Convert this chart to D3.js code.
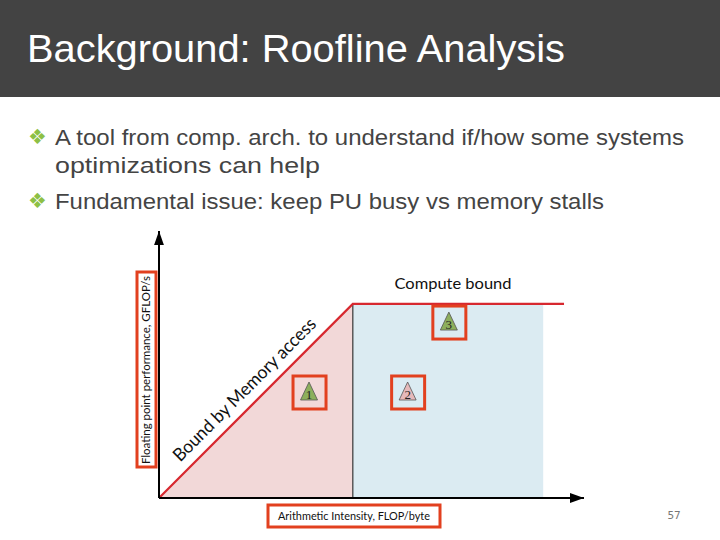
<!DOCTYPE html>
<html><head><meta charset="utf-8">
<script src="https://cdn.jsdelivr.net/npm/d3@7"></script>
<style>html,body{margin:0;padding:0;background:#fff;}svg{display:block;}</style>
</head><body>
<script>
// ---- data (arbitrary units) ----
const title = "Background: Roofline Analysis";
const bullets = [
  ["A tool from comp. arch. to understand if/how some systems", "optimizations can help"],
  ["Fundamental issue: keep PU busy vs memory stalls"]
];
const roofX = [0, 45.6, 95.3];      // arithmetic intensity
const roofY = [0, 72.7, 72.7];      // performance
const computeRegionEnd = 90.4;
const pointLabels = ["1", "2", "3"];
const pointX = [35.3, 58.5, 68.2];
const pointY = [39.7, 39.7, 65.9];
const pointKinds = ["green", "pink", "green"];
const xLabel = "Arithmetic Intensity, FLOP/byte";
const yLabel = "Floating point performance, GFLOP/s";
const memoryLabel = "Bound by Memory access";
const computeLabel = "Compute bound";
const pageNumber = "57";

const W = 720, H = 540;
const svg = d3.select("body").append("svg").attr("width", W).attr("height", H);

// title bar
svg.append("rect").attr("x",0).attr("y",0).attr("width",W).attr("height",97).attr("fill","#434343");
svg.append("text").attr("x",27).attr("y",62).text(title)
  .attr("font-family","Liberation Sans, Arial, sans-serif").attr("font-size",39)
  .attr("fill","#fff").attr("textLength",538).attr("lengthAdjust","spacingAndGlyphs");

// bullets
const bulletTop = [145, 209];
const lineW = [[629, 265], [549]];
bullets.forEach((lines, i) => {
  svg.append("text").attr("x",28).attr("y",bulletTop[i]-1).text("\u2756")
    .attr("font-family","DejaVu Sans, sans-serif").attr("font-size",21).attr("fill","#8dc045");
  lines.forEach((ln, j) => {
    svg.append("text").attr("x",55).attr("y",bulletTop[i] + j*28).text(ln)
      .attr("font-family","Liberation Sans, Arial, sans-serif").attr("font-size",22)
      .attr("fill","#444").attr("textLength",lineW[i][j]).attr("lengthAdjust","spacingAndGlyphs");
  });
});

// scales
const x = d3.scaleLinear().domain([0,100]).range([159,584]);
const y = d3.scaleLinear().domain([0,100]).range([498,231]);

const g = svg.append("g");

// compute region (blue)
g.append("rect")
  .attr("x", x(roofX[1])).attr("y", y(roofY[1]))
  .attr("width", x(computeRegionEnd) - x(roofX[1])).attr("height", y(0) - y(roofY[1]))
  .attr("fill","#dbebf2");
// memory region (pink)
g.append("path")
  .attr("d", d3.line()([[x(roofX[0]),y(roofY[0])],[x(roofX[1]),y(roofY[1])],[x(roofX[1]),y(0)]]) + "Z")
  .attr("fill","#f2d8d8");
// ridge vertical
g.append("line").attr("x1",x(roofX[1])).attr("x2",x(roofX[1])).attr("y1",y(roofY[1])).attr("y2",y(0))
  .attr("stroke","#444").attr("stroke-width",1.3);
// roofline
g.append("path").attr("d", d3.line().x((d,i)=>x(roofX[i])).y((d,i)=>y(roofY[i]))(roofX))
  .attr("fill","none").attr("stroke","#d7282f").attr("stroke-width",2.2);

// axes (arrows)
const defs = svg.append("defs");
defs.append("marker").attr("id","arr").attr("viewBox","0 0 10 10").attr("refX",10).attr("refY",5)
  .attr("markerWidth",14).attr("markerHeight",14).attr("markerUnits","userSpaceOnUse").attr("orient","auto")
  .append("path").attr("d","M0,1.5L10,5L0,8.5Z").attr("fill","#000");
g.append("line").attr("x1",x(0)).attr("y1",y(0)).attr("x2",x(100)).attr("y2",y(0))
  .attr("stroke","#000").attr("stroke-width",2).attr("marker-end","url(#arr)");
g.append("line").attr("x1",x(0)).attr("y1",y(0)).attr("x2",x(0)).attr("y2",y(100))
  .attr("stroke","#000").attr("stroke-width",2).attr("marker-end","url(#arr)");

// region labels
const ang = Math.atan2(y(roofY[1]) - y(0), x(roofX[1]) - x(0)) * 180 / Math.PI;
const mx = x(roofX[1]*0.5), my = y(roofY[1]*0.5);
g.append("text").text(memoryLabel)
  .attr("transform", `translate(${mx},${my}) rotate(${ang}) translate(0,-10)`)
  .attr("text-anchor","middle").attr("font-family","Lato, Open Sans, sans-serif").attr("font-size",18)
  .attr("fill","#111").attr("textLength",194).attr("lengthAdjust","spacingAndGlyphs");
g.append("text").text(computeLabel)
  .attr("x", 453).attr("y", 289).attr("text-anchor","middle")
  .attr("font-family","Lato, Open Sans, sans-serif").attr("font-size",15).attr("fill","#111")
  .attr("textLength",117).attr("lengthAdjust","spacingAndGlyphs");

// axis label boxes
const boxRed = "#e2401f";
g.append("rect").attr("x",268).attr("y",505).attr("width",172).attr("height",22)
  .attr("fill","#fff").attr("stroke",boxRed).attr("stroke-width",3);
g.append("text").text(xLabel).attr("x",354).attr("y",520).attr("text-anchor","middle")
  .attr("font-family","Lato, Open Sans, sans-serif").attr("font-size",11).attr("fill","#111")
  .attr("textLength",152).attr("lengthAdjust","spacingAndGlyphs");
g.append("rect").attr("x",137).attr("y",272).attr("width",19).attr("height",195)
  .attr("fill","#fff").attr("stroke",boxRed).attr("stroke-width",3);
g.append("text").text(yLabel)
  .attr("transform","translate(150,370) rotate(-90)").attr("text-anchor","middle")
  .attr("font-family","Lato, Open Sans, sans-serif").attr("font-size",10.5).attr("fill","#111")
  .attr("textLength",188).attr("lengthAdjust","spacingAndGlyphs");

// points
const fills = {green:"#8daf5c", pink:"#e6b9ba"};
pointLabels.forEach((lab, i) => {
  const cx = x(pointX[i]), cy = y(pointY[i]);
  g.append("rect").attr("x",cx-16).attr("y",cy-16).attr("width",33).attr("height",33)
    .attr("fill","none").attr("stroke",boxRed).attr("stroke-width",3);
  g.append("path").attr("d",`M${cx},${cy-10}L${cx+8.5},${cy+8}L${cx-8.5},${cy+8}Z`)
    .attr("fill",fills[pointKinds[i]]).attr("stroke","#555").attr("stroke-width",0.8);
  g.append("text").text(lab).attr("x",cx).attr("y",cy+7).attr("text-anchor","middle")
    .attr("font-family","Liberation Serif, serif").attr("font-size",13).attr("fill","#222");
});

// page number
svg.append("text").text(pageNumber).attr("x",674).attr("y",519).attr("text-anchor","middle")
  .attr("font-family","DejaVu Sans Mono, monospace").attr("font-size",11).attr("fill","#777");
</script>
</body></html>
